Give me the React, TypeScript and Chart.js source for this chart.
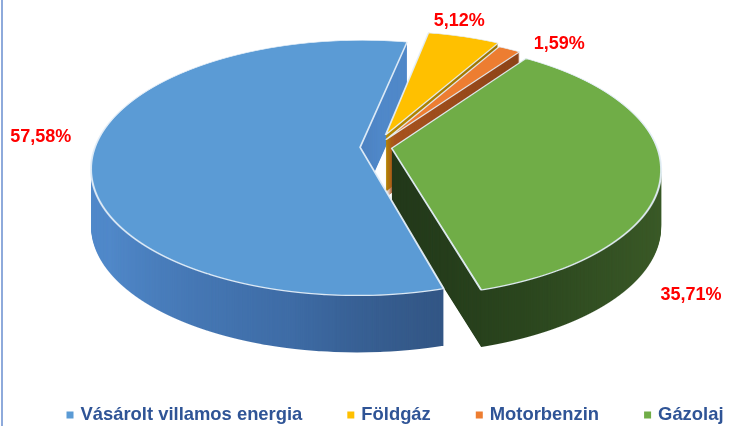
import React, { useEffect, useRef } from "react";
import { Chart, registerables } from "chart.js";

Chart.register(...registerables);

// ---- data ----
const categories = ["Vásárolt villamos energia", "Földgáz", "Motorbenzin", "Gázolaj"];
const shares = [57.58, 5.12, 1.59, 35.71];
const shareLabels = ["57,58%", "5,12%", "1,59%", "35,71%"];

// ---- style ----
const topColors = ["#5b9bd5", "#ffc000", "#ed7d31", "#70ad47"];
// side (extrusion) gradients in screen space: [x0, y0, x1, y1, stops]
const sideGradients: [number, number, number, number, [number, string][]][] = [
  [100, 220, 220, 505, [[0, "#5088c9"], [0.45, "#3e6ca6"], [0.75, "#2b4870"], [1, "#2b4870"]]],
  [380, 0, 500, 0, [[0, "#b88a00"], [1, "#9a7300"]]],
  [385, 0, 520, 0, [[0, "#a9541f"], [1, "#8c4318"]]],
  [390, 0, 662, 0, [[0, "#22381a"], [0.5, "#2b461e"], [1, "#3a5927"]]],
];
const explode = [0.06, 0.105, 0.07, 0.06];
const labelNudge: [number, number][] = [[-15, -16], [-11, -8], [36, 5], [-9, 122]];

// perspective projection of the unit pie: x = cx + A*u/w, y = cy + B*v/w, w = 1 - p*v
const GEO = { cx: 376, cy: 147, A: 265, B: 124.2, p: 0.161, depth: 57, labelK: 1.2, yTop: 28, yBottom: 302 };
const LEGEND = {
  centerX: 395,
  y: 415,
  box: 7,
  gap: 7,
  spacing: 45,
  color: "#2f5496",
  font: "bold 18.4px 'Liberation Sans', Arial, sans-serif",
};
const LABEL_FONT = "bold 18px 'Liberation Sans', Arial, sans-serif";
const LABEL_COLOR = "#ff0000";

const invV = (t: number) => t / (GEO.B + GEO.p * t);
const project = (u: number, v: number) => {
  const w = 1 - GEO.p * v;
  return { x: GEO.cx + (GEO.A * u) / w, y: GEO.cy + (GEO.B * v) / w };
};

// draw the pie's arcs (through Chart.js ArcElement.draw) with a strip-wise perspective transform
function drawProjected(
  ctx: CanvasRenderingContext2D,
  arcs: any[],
  W: number,
  only: number | null,
  optsFor: (i: number, arc: any) => any
) {
  const a0 = arcs[0];
  const ox = a0.x, oy = a0.y, R = a0.outerRadius;
  for (let Y = GEO.yTop; Y < GEO.yBottom; Y += 1) {
    const va = invV(Y - GEO.cy);
    const vb = invV(Y + 1 - GEO.cy);
    const vm = (va + vb) / 2;
    const w = 1 - GEO.p * vm;
    const sX = GEO.A / w / R;
    const sY = 1 / ((vb - va) * R);
    ctx.save();
    ctx.beginPath();
    ctx.rect(0, Y, W, 1);
    ctx.clip();
    ctx.translate(GEO.cx, Y);
    ctx.scale(sX, sY);
    ctx.translate(-ox, -(oy + va * R));
    arcs.forEach((arc: any, i: number) => {
      if (only !== null && only !== i) return;
      const mid = (arc.startAngle + arc.endAngle) / 2;
      const e = explode[i] * R;
      ctx.save();
      ctx.translate(Math.cos(mid) * e, Math.sin(mid) * e);
      const fake = Object.create(arc);
      fake.options = { ...arc.options, offset: 0, ...optsFor(i, arc) };
      fake.draw(ctx);
      ctx.restore();
    });
    ctx.restore();
  }
}

const pie3d = {
  id: "pie3d",
  beforeDatasetsDraw(chart: any) {
    const ctx: CanvasRenderingContext2D = chart.ctx;
    const arcs = chart.getDatasetMeta(0).data;
    if (!arcs.length) return false;
    const W = chart.width, H = chart.height;

    // side layer: every slice as a mask, coloured with its screen-space gradient
    const side = document.createElement("canvas");
    side.width = W;
    side.height = H;
    const sctx = side.getContext("2d")!;
    arcs.forEach((_: any, i: number) => {
      const tmp = document.createElement("canvas");
      tmp.width = W;
      tmp.height = H;
      const tctx = tmp.getContext("2d")!;
      drawProjected(tctx, arcs, W, i, () => ({ backgroundColor: "#000", borderWidth: 0 }));
      tctx.globalCompositeOperation = "source-in";
      const [x0, y0, x1, y1, stops] = sideGradients[i];
      const g = tctx.createLinearGradient(x0, y0, x1, y1);
      stops.forEach(([o, c]) => g.addColorStop(o, c));
      tctx.fillStyle = g;
      tctx.fillRect(0, 0, W, H);
      sctx.drawImage(tmp, 0, 0);
    });
    for (let d = GEO.depth; d >= 1; d--) ctx.drawImage(side, 0, d);

    // top faces
    drawProjected(ctx, arcs, W, null, (i) => ({
      backgroundColor: topColors[i],
      borderColor: "rgba(228,238,248,0.95)",
      borderWidth: 1.5,
    }));
    return false;
  },
  afterDraw(chart: any) {
    const ctx: CanvasRenderingContext2D = chart.ctx;
    const arcs = chart.getDatasetMeta(0).data;
    // percentage labels
    ctx.save();
    ctx.font = LABEL_FONT;
    ctx.fillStyle = LABEL_COLOR;
    ctx.textAlign = "center";
    ctx.textBaseline = "middle";
    arcs.forEach((arc: any, i: number) => {
      const mid = (arc.startAngle + arc.endAngle) / 2;
      const p = project(Math.cos(mid) * GEO.labelK, Math.sin(mid) * GEO.labelK);
      ctx.fillText(shareLabels[i], p.x + labelNudge[i][0], p.y + labelNudge[i][1]);
    });
    ctx.restore();

    // legend
    ctx.save();
    ctx.font = LEGEND.font;
    ctx.textBaseline = "middle";
    ctx.textAlign = "left";
    const labels: string[] = chart.data.labels;
    const colors: string[] = chart.data.datasets[0].backgroundColor;
    const widths = labels.map((t) => ctx.measureText(t).width);
    const total =
      widths.reduce((sum, w) => sum + LEGEND.box + LEGEND.gap + w, 0) +
      LEGEND.spacing * (labels.length - 1);
    let x = LEGEND.centerX - total / 2;
    labels.forEach((t, i) => {
      ctx.fillStyle = colors[i];
      ctx.fillRect(x, LEGEND.y - LEGEND.box / 2, LEGEND.box, LEGEND.box);
      x += LEGEND.box + LEGEND.gap;
      ctx.fillStyle = LEGEND.color;
      ctx.fillText(t, x, LEGEND.y);
      x += widths[i] + LEGEND.spacing;
    });
    ctx.restore();
  },
};

export default function App() {
  const ref = useRef<HTMLCanvasElement | null>(null);
  useEffect(() => {
    if (!ref.current) return;
    const chart = new Chart(ref.current, {
      type: "pie",
      data: {
        labels: categories,
        datasets: [
          {
            data: shares,
            backgroundColor: topColors,
            borderWidth: 0,
          },
        ],
      },
      options: {
        responsive: false,
        animation: false,
        events: [],
        rotation: 164,
        layout: { padding: 0 },
        plugins: {
          legend: { display: false },
          tooltip: { enabled: false },
        },
      },
      plugins: [pie3d],
    } as any);
    return () => chart.destroy();
  }, []);

  return (
    <div style={{ position: "absolute", left: 0, top: 0, width: 732, height: 426, background: "#fff" }}>
      <canvas ref={ref} width={732} height={426} style={{ display: "block" }} />
      <div
        style={{
          position: "absolute",
          left: 1,
          top: 0,
          width: 2,
          height: 426,
          background: "#8eaadb",
        }}
      />
    </div>
  );
}
